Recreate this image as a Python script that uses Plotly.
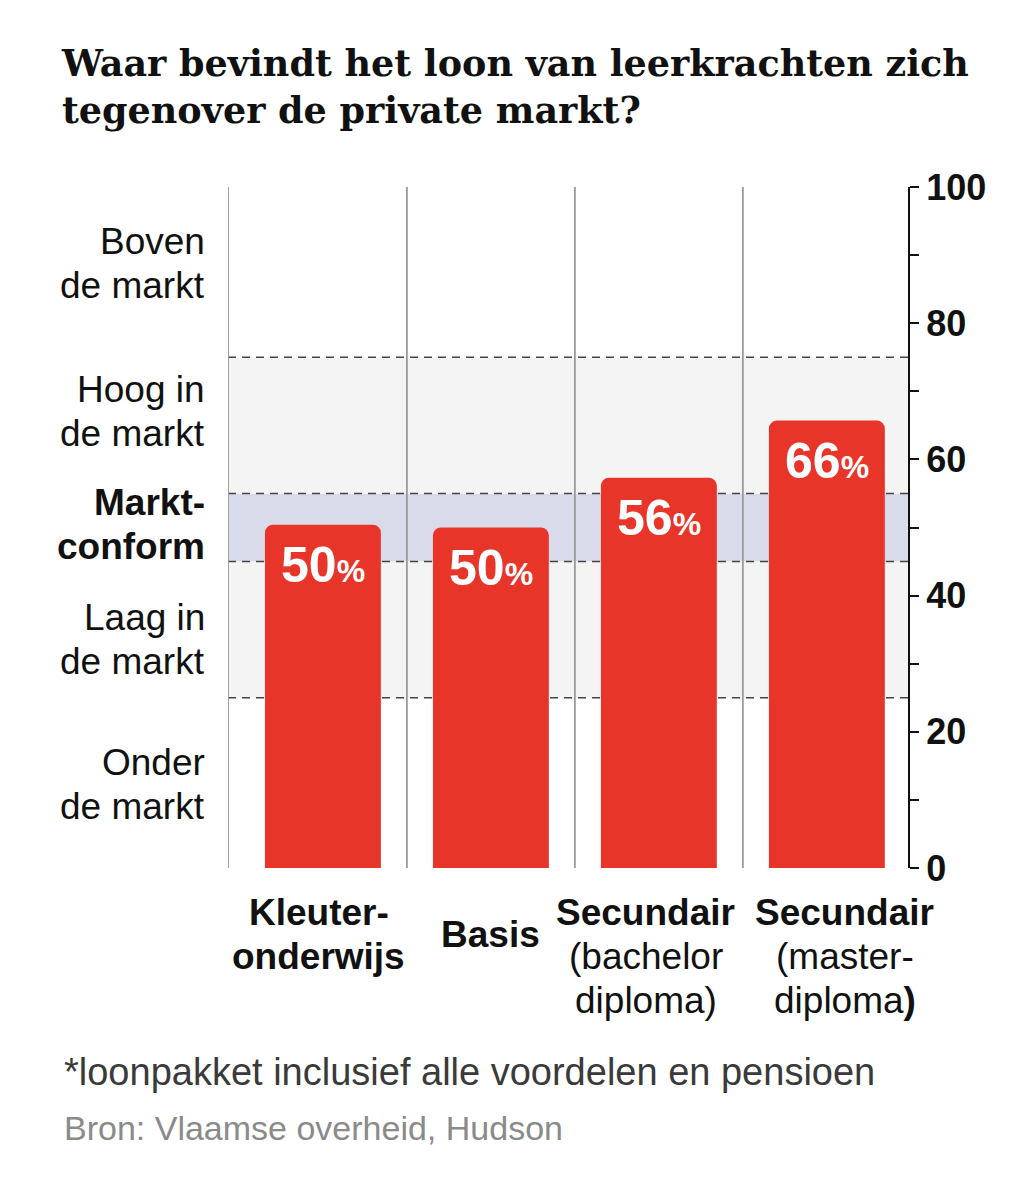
import plotly.graph_objects as go

# Loon leerkrachten tegenover de private markt (percentiel)
categories = ["Kleuteronderwijs", "Basis", "Secundair (bachelor)", "Secundair (master)"]
cat_lines = [
    ["<b>Kleuter-</b>", "<b>onderwijs</b>"],
    ["<b>Basis</b>"],
    ["<b>Secundair</b>", "(bachelor", "diploma)"],
    ["<b>Secundair</b>", "(master-", "diploma<b>)</b>"],
]
values = [50.4, 50.0, 57.3, 65.7]
value_labels = ["50", "50", "56", "66"]

# marktzones: ondergrens, bovengrens, label
band_low = [0, 25, 45, 55, 75]
band_high = [25, 45, 55, 75, 100]
band_lines = [
    ["Onder", "de markt"],
    ["Laag in", "de markt"],
    ["<b>Markt-</b>", "<b>conform</b>"],
    ["Hoog in", "de markt"],
    ["Boven", "de markt"],
]
band_colors = [None, "#f4f4f5", "#dadbea", "#f4f4f5", None]

font = "Liberation Sans, Arial, sans-serif"
red = "#e8352a"
ink = "#111111"

# page has an 8px body margin, margins compensate for it
W, H = 1036, 1200
ml, mt = 220, 179
pw, ph = 680, 681
mr, mb = W - ml - pw, H - mt - ph

fig = go.Figure()
fig.add_trace(go.Bar(
    x=categories, y=values, width=0.69,
    marker=dict(color=red, line_width=0),
    hoverinfo="skip",
))

shapes = []
for lo, hi, col in zip(band_low, band_high, band_colors):
    if col:
        shapes.append(dict(type="rect", xref="paper", yref="y", x0=0, x1=1, y0=lo, y1=hi,
                           fillcolor=col, line_width=0, layer="below"))
for v in [25, 45, 55, 75]:
    shapes.append(dict(type="line", xref="paper", yref="y", x0=0, x1=1, y0=v, y1=v,
                       line=dict(color="#444444", width=1.5, dash="8px,6px"), layer="below"))
for sep in [-0.565, 0.5, 1.5, 2.5]:
    shapes.append(dict(type="line", xref="x", yref="y", x0=sep, x1=sep, y0=0, y1=100,
                       line=dict(color="#9a9a9a", width=1.8), layer="below"))

annotations = []


def add_lines(lines, x, y, xref, yref, xanchor, xshift, top_shift, size, color=ink, gap=44):
    for i, line in enumerate(lines):
        annotations.append(dict(
            x=x, y=y, xref=xref, yref=yref, xanchor=xanchor, yanchor="middle",
            xshift=xshift, yshift=top_shift - i * gap, showarrow=False, text=line,
            font=dict(family=font, size=size, color=color),
        ))


for cat, v, lab in zip(categories, values, value_labels):
    annotations.append(dict(
        x=cat, y=v, xref="x", yref="y", yanchor="top", yshift=-10, showarrow=False,
        text=lab + "<span style='font-size:32px'>%</span>",
        font=dict(family=font, size=50, color="white", weight="bold"),
    ))

x_shifts = [-4, 0, -13, 18]
for cat, lines, xs in zip(categories, cat_lines, x_shifts):
    top = -66 if len(lines) == 1 else -44
    add_lines(lines, cat, 0, "x", "paper", "center", xs, top, 37)

label_y = [12.2, 33.5, 50.4, 67.1, 88.7]
for ly, lines in zip(label_y, band_lines):
    add_lines(lines, 0, ly, "paper", "y", "right", -21, 22, 37)

# footer, in page pixels
def page_y(py):
    return (H - mb - (py - 8)) / ph


add_lines(["*loonpakket inclusief alle voordelen en pensioen"], (54 - ml) / pw, page_y(1072),
          "paper", "paper", "left", 0, 0, 38, color="#3a3a3a")
add_lines(["Bron: Vlaamse overheid, Hudson"], (54 - ml) / pw, page_y(1128),
          "paper", "paper", "left", 0, 0, 34, color="#8a8a8a")

fig.update_layout(
    width=W, height=H,
    margin=dict(l=ml, r=mr, t=mt, b=mb),
    paper_bgcolor="white", plot_bgcolor="white",
    showlegend=False,
    barcornerradius=8,
    title=dict(
        text="Waar bevindt het loon van leerkrachten zich<br>tegenover de private markt?",
        x=54 / W, xanchor="left", xref="container",
        y=1 - 68 / H, yanchor="top", yref="container",
        font=dict(family="DejaVu Serif, serif", size=36.5, color=ink, weight="bold"),
    ),
    xaxis=dict(range=[-0.565, 3.483], showticklabels=False, showgrid=False,
               zeroline=False, showline=False, ticks="", fixedrange=True),
    yaxis=dict(range=[0, 100], side="right", showgrid=False, zeroline=False,
               showline=True, linecolor=ink, linewidth=2,
               ticks="outside", ticklen=9, tickwidth=2, tickcolor=ink,
               dtick=20, tick0=0,
               minor=dict(dtick=10, ticks="outside", ticklen=9, tickwidth=1.5, tickcolor=ink),
               tickfont=dict(family=font, size=36, color=ink, weight="bold"),
               fixedrange=True),
    shapes=shapes,
    annotations=annotations,
)

fig.write_html("out.html")
